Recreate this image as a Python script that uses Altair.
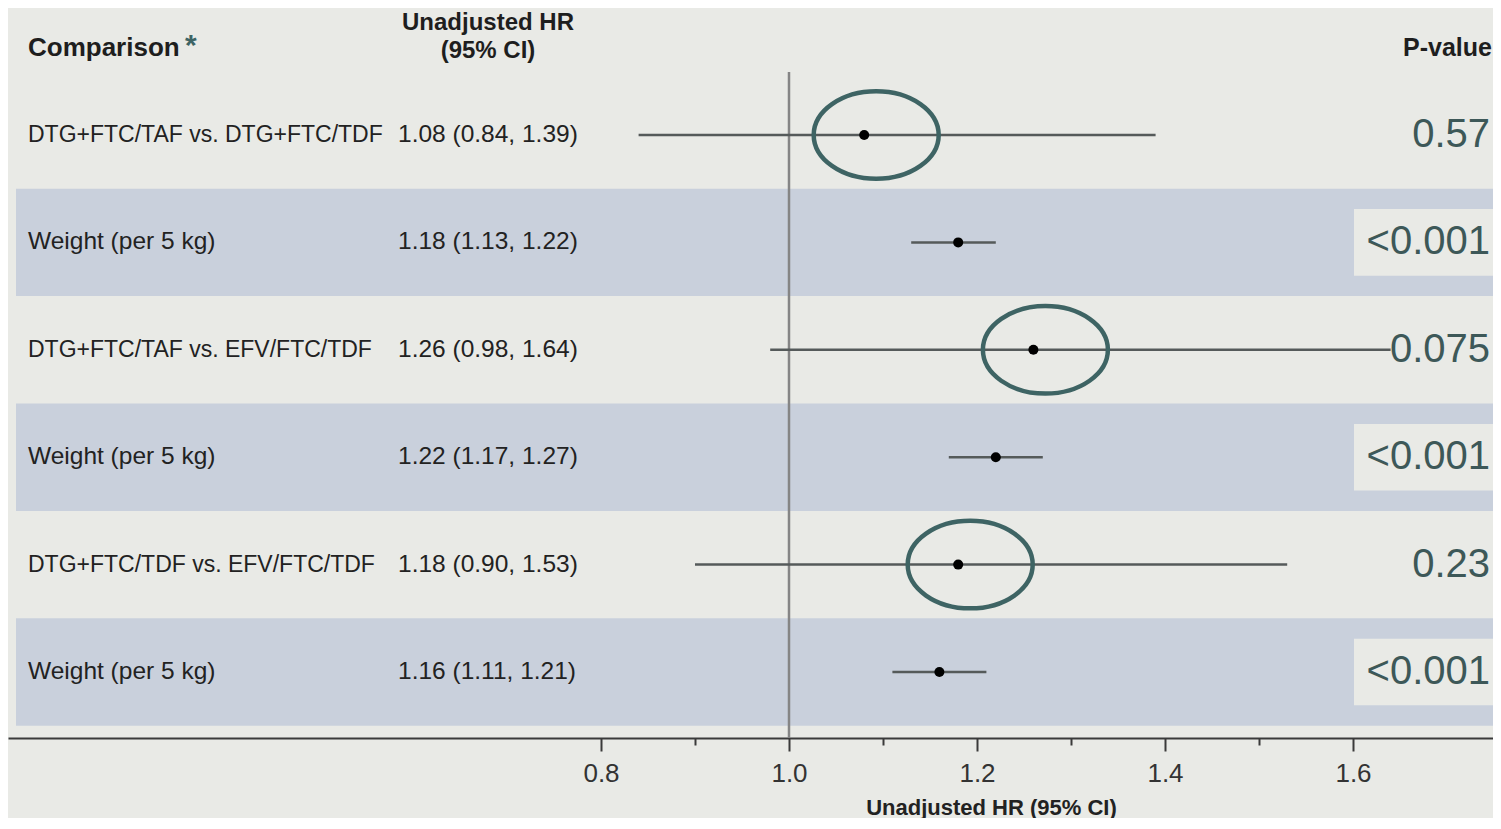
import altair as alt
import pandas as pd

# ---- data ----
comparisons = [
    "DTG+FTC/TAF vs. DTG+FTC/TDF",
    "Weight (per 5 kg)",
    "DTG+FTC/TAF vs. EFV/FTC/TDF",
    "Weight (per 5 kg)",
    "DTG+FTC/TDF vs. EFV/FTC/TDF",
    "Weight (per 5 kg)",
]
hr = [1.08, 1.18, 1.26, 1.22, 1.18, 1.16]
ci_low = [0.84, 1.13, 0.98, 1.17, 0.90, 1.11]
ci_high = [1.39, 1.22, 1.64, 1.27, 1.53, 1.21]
p_values = ["0.57", "<0.001", "0.075", "<0.001", "0.23", "<0.001"]
tick_values = [0.8, 0.9, 1.0, 1.1, 1.2, 1.3, 1.4, 1.5, 1.6]
reference_hr = 1.0

df = pd.DataFrame({
    "row": list(range(len(comparisons))),
    "label": comparisons,
    "hr": hr,
    "lo": ci_low,
    "hi": ci_high,
    "p": p_values,
    "hr_text": [f"{h:.2f} ({l:.2f}, {u:.2f})" for h, l, u in zip(hr, ci_low, ci_high)],
})

# ---- layout / style ----
W, H = 1485, 730
BG = "#e9eae6"
BAND = "#c9d0dc"
TEAL = "#3e6464"
FONT = "Liberation Sans"

xscale = alt.Scale(domain=[0.16915, 1.74894], nice=False, zero=False)
yscale = alt.Scale(domain=[-1.1825, 5.6145], reverse=True, nice=False, zero=False)

base = alt.Chart(df)

bands = base.mark_rect(color=BAND).transform_filter(
    "datum.row % 2 == 1"
).transform_calculate(
    y0="datum.row - 0.5", y1="datum.row + 0.5"
).encode(
    x=alt.value(8), x2=alt.value(W),
    y=alt.Y("y0:Q", scale=yscale, axis=None), y2="y1:Q",
)

ref_rule = alt.Chart(pd.DataFrame({"ref": [reference_hr]})).mark_rule(
    color="#858585", strokeWidth=2.5
).encode(
    x=alt.X("ref:Q", scale=xscale), y=alt.value(64), y2=alt.value(H)
)

x_axis = alt.Axis(
    values=tick_values,
    labelExpr="round(datum.value * 10) % 2 == 0 ? format(datum.value, '.1f') : ''",
    tickSize={"condition": {"test": "round(datum.value * 10) % 2 == 0", "value": 13}, "value": 7},
    tickWidth=2, tickColor="#3a3a3a",
    domainColor="#3a3a3a", domainWidth=2,
    labelFont=FONT, labelFontSize=26, labelColor="#333333", labelPadding=9,
    title="Unadjusted HR (95% CI)", titleFont=FONT, titleFontSize=22,
    titleFontWeight="bold", titleColor="#222222",
    titleX=983, titleY=59, titleAlign="center", titleBaseline="top",
    grid=False,
)

ci = base.mark_rule(color="#555a5a", strokeWidth=2.5).encode(
    x=alt.X("lo:Q", scale=xscale, axis=x_axis), x2="hi:Q",
    y=alt.Y("row:Q", scale=yscale, axis=None),
)

dots = base.mark_circle(color="black", size=100, opacity=1).encode(
    x=alt.X("hr:Q", scale=xscale), y=alt.Y("row:Q", scale=yscale)
)

ellipse_path = "M-1,0A1,0.7,0,1,1,1,0A1,0.7,0,1,1,-1,0Z"
ellipses = base.mark_point(
    shape=ellipse_path, size=15625, filled=False, strokeWidth=4.5,
    color=TEAL, opacity=1, xOffset=12,
).transform_filter("indexof(datum.label, ' vs. ') >= 0").encode(
    x=alt.X("hr:Q", scale=xscale), y=alt.Y("row:Q", scale=yscale)
)

labels_cmp = base.mark_text(
    align="left", baseline="middle", font=FONT, fontSize=23, color="#222222"
).transform_filter("indexof(datum.label, ' vs. ') >= 0").encode(
    x=alt.value(20), y=alt.Y("row:Q", scale=yscale), text="label:N"
)
labels_wt = base.mark_text(
    align="left", baseline="middle", font=FONT, fontSize=24.5, color="#222222"
).transform_filter("indexof(datum.label, ' vs. ') < 0").encode(
    x=alt.value(20), y=alt.Y("row:Q", scale=yscale), text="label:N"
)

hr_texts = base.mark_text(
    align="left", baseline="middle", font=FONT, fontSize=24.5, color="#222222"
).encode(x=alt.value(390), y=alt.Y("row:Q", scale=yscale), text="hr_text:N")

p_boxes = base.mark_rect(color=BG).transform_filter(
    "datum.row % 2 == 1"
).transform_calculate(
    b0="datum.row - 0.31", b1="datum.row + 0.31"
).encode(
    x=alt.value(1346), x2=alt.value(W),
    y=alt.Y("b0:Q", scale=yscale), y2="b1:Q",
)

p_texts = base.mark_text(
    align="right", baseline="middle", font=FONT, fontSize=40, color="#3d5858"
).encode(x=alt.value(1482), y=alt.Y("row:Q", scale=yscale), text="p:N")

hdr = alt.Chart(pd.DataFrame({"h": [0]}))
h_comp = hdr.mark_text(
    text="Comparison", align="left", baseline="middle", font=FONT,
    fontSize=26, fontWeight="bold", color="#1e1e1e"
).encode(x=alt.value(20), y=alt.value(40))
h_star = hdr.mark_text(
    text="*", align="left", baseline="middle", font=FONT,
    fontSize=30, fontWeight="bold", color=TEAL
).encode(x=alt.value(177), y=alt.value(38))
h_hr1 = hdr.mark_text(
    text="Unadjusted HR", align="center", baseline="middle", font=FONT,
    fontSize=24, fontWeight="bold", color="#1e1e1e"
).encode(x=alt.value(480), y=alt.value(15))
h_hr2 = hdr.mark_text(
    text="(95% CI)", align="center", baseline="middle", font=FONT,
    fontSize=24, fontWeight="bold", color="#1e1e1e"
).encode(x=alt.value(480), y=alt.value(43))
h_p = hdr.mark_text(
    text="P-value", align="right", baseline="middle", font=FONT,
    fontSize=25, fontWeight="bold", color="#1e1e1e"
).encode(x=alt.value(1484), y=alt.value(40))

chart = alt.layer(
    bands, ref_rule, ci, dots, ellipses, labels_cmp, labels_wt, hr_texts,
    p_boxes, p_texts, h_comp, h_star, h_hr1, h_hr2, h_p,
).properties(
    width=W, height=H, background=BG, padding=0
).configure_view(strokeWidth=0)

chart.save("out.html", embed_options={"renderer": "svg", "actions": False})
